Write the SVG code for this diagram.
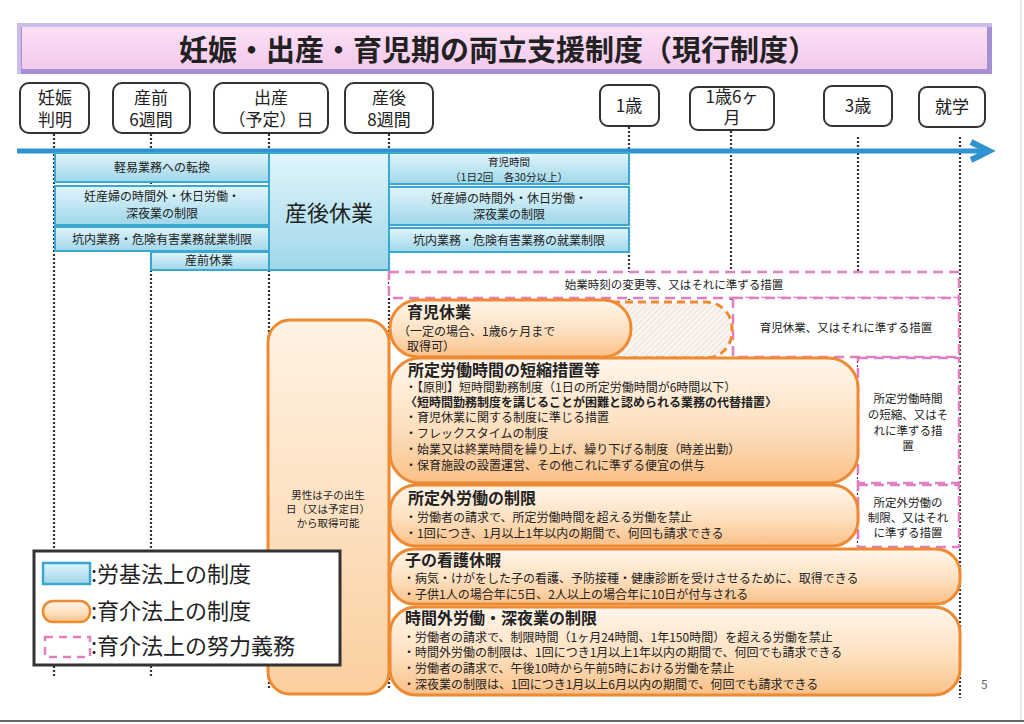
<svg xmlns="http://www.w3.org/2000/svg" width="1024" height="724" viewBox="0 0 1024 724">
<defs>
<linearGradient id="gBlue" x1="0" y1="0" x2="0" y2="1"><stop offset="0" stop-color="#e0f5fb"/><stop offset="1" stop-color="#9fd7ea"/></linearGradient>
<linearGradient id="gOrange" x1="0" y1="0" x2="0" y2="1"><stop offset="0" stop-color="#fff6ec"/><stop offset="0.55" stop-color="#fde0bf"/><stop offset="1" stop-color="#f9c088"/></linearGradient>
<linearGradient id="gTall" x1="0" y1="0" x2="0" y2="1"><stop offset="0" stop-color="#fff3e4"/><stop offset="1" stop-color="#fbcf9f"/></linearGradient>
<linearGradient id="gTitle" x1="0" y1="0" x2="0" y2="1"><stop offset="0" stop-color="#fbe0f5"/><stop offset="1" stop-color="#f3c9ec"/></linearGradient>
<pattern id="hatch" width="4" height="4" patternUnits="userSpaceOnUse" patternTransform="rotate(45)"><rect width="4" height="4" fill="#fbf5ef"/><line x1="0" y1="0" x2="0" y2="4" stroke="#d8d0c8" stroke-width="1"/></pattern>
</defs>
<style>
text{font-family:"Noto Sans CJK JP","Noto Sans CJK SC",sans-serif;fill:#222}
.hdr{fill:#fff;stroke:#333;stroke-width:2}
.ht{font-size:17px;text-anchor:middle}
.blue{fill:url(#gBlue);stroke:#3aa8d0;stroke-width:2}
.bt{font-size:12px;text-anchor:middle}
.orange{fill:url(#gOrange);stroke:#ee8a32;stroke-width:3}
.pink{fill:#fff;stroke:#e07fbf;stroke-width:2.5;stroke-dasharray:10 6}
.pt{font-size:11.5px;text-anchor:middle}
.ot{font-size:16px;font-weight:bold}
.ob{font-size:12px}
.mt{font-size:10.5px;text-anchor:middle}
.dot{stroke:#333;stroke-width:2.2;stroke-dasharray:2 2;fill:none}
.lt{font-size:22px}
</style>
<rect width="1024" height="724" fill="#fff"/>
<line x1="0" y1="721" x2="1024" y2="721" stroke="#666" stroke-width="2"/>
<line x1="1021" y1="0" x2="1021" y2="720" stroke="#e4e4e4" stroke-width="1.5"/>

<g id="title">
<rect x="17" y="23" width="975" height="51" fill="#a48fd3"/>
<rect x="17" y="23" width="975" height="4" fill="#cbbde9"/>
<rect x="17" y="23" width="4" height="51" fill="#cbbde9"/>
<rect x="22" y="27" width="965" height="42" fill="url(#gTitle)"/>
<text x="498" y="61" font-size="29" font-weight="bold" text-anchor="middle">妊娠・出産・育児期の両立支援制度（現行制度）</text>
</g>

<g id="connectors">
<line class="dot" x1="54" y1="134" x2="54" y2="676"/>
<line class="dot" x1="151" y1="134" x2="151" y2="676"/>
<line class="dot" x1="269" y1="134" x2="269" y2="690"/>
<line class="dot" x1="389" y1="134" x2="389" y2="690"/>
<line class="dot" x1="629" y1="127" x2="629" y2="300"/>
<line class="dot" x1="731" y1="131" x2="731" y2="300"/>
<line class="dot" x1="858" y1="137" x2="858" y2="548"/>
<line class="dot" x1="960" y1="137" x2="960" y2="698"/>
<line x1="17" y1="151" x2="986" y2="151" stroke="#2f93cf" stroke-width="5"/>
<polyline points="971,142 989,151 971,160" fill="none" stroke="#2f93cf" stroke-width="6" stroke-linejoin="miter"/>
</g>

<g id="h-ninshin"><rect class="hdr" x="20" y="83" width="69" height="50" rx="9"/><text class="ht" x="55" y="104">妊娠</text><text class="ht" x="55" y="126">判明</text></g>
<g id="h-sanzen"><rect class="hdr" x="113" y="83" width="77" height="50" rx="9"/><text class="ht" x="151" y="104">産前</text><text class="ht" x="151" y="126">6週間</text></g>
<g id="h-shussan"><rect class="hdr" x="214" y="83" width="114" height="50" rx="9"/><text class="ht" x="271" y="104">出産</text><text class="ht" x="271" y="126">（予定）日</text></g>
<g id="h-sango"><rect class="hdr" x="345" y="83" width="88" height="50" rx="9"/><text class="ht" x="389" y="104">産後</text><text class="ht" x="389" y="126">8週間</text></g>
<g id="h-1sai"><rect class="hdr" x="600" y="85" width="59" height="41" rx="8"/><text class="ht" x="629" y="112">1歳</text></g>
<g id="h-1sai6"><rect class="hdr" x="690" y="87" width="84" height="43" rx="8"/><text class="ht" x="732" y="103">1歳6ヶ</text><text class="ht" x="732" y="124">月</text></g>
<g id="h-3sai"><rect class="hdr" x="824" y="86" width="68" height="40" rx="8"/><text class="ht" x="858" y="112">3歳</text></g>
<g id="h-shugaku"><rect class="hdr" x="919" y="87" width="66" height="40" rx="8"/><text class="ht" x="952" y="113">就学</text></g>

<g id="b-keii"><rect class="blue" x="55" y="153" width="214" height="29"/><text class="bt" x="162" y="172">軽易業務への転換</text></g>
<g id="b-ninsanpu1"><rect class="blue" x="55" y="186" width="214" height="39"/><text class="bt" x="162" y="201">妊産婦の時間外・休日労働・</text><text class="bt" x="162" y="218">深夜業の制限</text></g>
<g id="b-konai1"><rect class="blue" x="55" y="227" width="214" height="24"/><text class="bt" x="162" y="244">坑内業務・危険有害業務就業制限</text></g>
<g id="b-sanzen"><rect class="blue" x="151" y="252" width="118" height="18"/><text class="bt" x="209" y="265">産前休業</text></g>
<g id="b-sango"><rect class="blue" x="269" y="153" width="120" height="117"/><text x="329" y="221" font-size="22" text-anchor="middle">産後休業</text></g>
<g id="b-ikuji-jikan"><rect class="blue" x="389" y="153" width="240" height="31"/><text x="509" y="166" font-size="10.5" text-anchor="middle">育児時間</text><text x="509" y="181" font-size="10.5" text-anchor="middle">（1日2回　各30分以上）</text></g>
<g id="b-ninsanpu2"><rect class="blue" x="389" y="187" width="240" height="38"/><text class="bt" x="509" y="203">妊産婦の時間外・休日労働・</text><text class="bt" x="509" y="219">深夜業の制限</text></g>
<g id="b-konai2"><rect class="blue" x="389" y="228" width="240" height="24"/><text class="bt" x="509" y="245">坑内業務・危険有害業務の就業制限</text></g>

<g id="p-shigyo"><rect class="pink" x="389" y="272" width="570" height="26"/><text class="pt" x="674" y="289">始業時刻の変更等、又はそれに準ずる措置</text></g>
<g id="p-ikuji"><rect class="pink" x="733" y="298" width="226" height="59"/><text class="pt" x="846" y="332">育児休業、又はそれに準ずる措置</text></g>
<g id="p-tanshuku"><rect class="pink" x="858" y="358" width="101" height="125"/><text class="pt" x="908" y="403">所定労働時間</text><text class="pt" x="908" y="419">の短縮、又はそ</text><text class="pt" x="908" y="435">れに準ずる措</text><text class="pt" x="908" y="450">置</text></g>
<g id="p-shoteigai"><rect class="pink" x="858" y="485" width="101" height="62"/><text class="pt" x="908" y="507">所定外労働の</text><text class="pt" x="908" y="522">制限、又はそれ</text><text class="pt" x="908" y="537">に準ずる措置</text></g>

<g id="o-dansei"><rect x="268" y="320" width="121" height="374" rx="22" fill="url(#gTall)" stroke="#ee8a32" stroke-width="3"/><text class="mt" x="328" y="499">男性は子の出生</text><text class="mt" x="328" y="513">日（又は予定日）</text><text class="mt" x="328" y="527">から取得可能</text></g>

<g id="o-ikuji-kyugyo">
<rect x="560" y="302" width="172" height="56" rx="26" fill="url(#hatch)" stroke="#ee8a32" stroke-width="3" stroke-dasharray="8 5"/>
<rect class="orange" x="390" y="300" width="241" height="57" rx="28"/>
<text class="ot" x="407" y="318">育児休業</text>
<text class="ob" x="398" y="336">（一定の場合、1歳6ヶ月まで</text>
<text class="ob" x="407" y="351">取得可）</text>
</g>

<g id="o-tanshuku">
<rect class="orange" x="390" y="358" width="468" height="125" rx="30"/>
<text class="ot" x="408" y="376">所定労働時間の短縮措置等</text>
<text class="ob" x="405" y="392">・【原則】短時間勤務制度（1日の所定労働時間が6時間以下）</text>
<text class="ob" x="405" y="407" font-weight="bold">〈短時間勤務制度を講じることが困難と認められる業務の代替措置〉</text>
<text class="ob" x="405" y="422">・育児休業に関する制度に準じる措置</text>
<text class="ob" x="405" y="438">・フレックスタイムの制度</text>
<text class="ob" x="405" y="454">・始業又は終業時間を繰り上げ、繰り下げる制度（時差出勤）</text>
<text class="ob" x="405" y="470">・保育施設の設置運営、その他これに準ずる便宜の供与</text>
</g>

<g id="o-shoteigai">
<rect class="orange" x="390" y="485" width="468" height="61" rx="26"/>
<text class="ot" x="408" y="504">所定外労働の制限</text>
<text class="ob" x="405" y="522">・労働者の請求で、所定労働時間を超える労働を禁止</text>
<text class="ob" x="405" y="538">・1回につき、1月以上1年以内の期間で、何回も請求できる</text>
</g>

<g id="o-kango">
<rect class="orange" x="390" y="549" width="570" height="55" rx="24"/>
<text class="ot" x="405" y="566">子の看護休暇</text>
<text class="ob" x="403" y="583">・病気・けがをした子の看護、予防接種・健康診断を受けさせるために、取得できる</text>
<text class="ob" x="403" y="599">・子供1人の場合年に5日、2人以上の場合年に10日が付与される</text>
</g>

<g id="o-jikangai">
<rect class="orange" x="390" y="607" width="570" height="88" rx="26"/>
<text class="ot" x="405" y="624">時間外労働・深夜業の制限</text>
<text class="ob" x="403" y="642">・労働者の請求で、制限時間（1ヶ月24時間、1年150時間）を超える労働を禁止</text>
<text class="ob" x="403" y="657">・時間外労働の制限は、1回につき1月以上1年以内の期間で、何回でも請求できる</text>
<text class="ob" x="403" y="673">・労働者の請求で、午後10時から午前5時における労働を禁止</text>
<text class="ob" x="403" y="689">・深夜業の制限は、1回につき1月以上6月以内の期間で、何回でも請求できる</text>
</g>

<g id="legend">
<rect x="34" y="551" width="306" height="114" fill="#fff" stroke="#333" stroke-width="3"/>
<rect x="43" y="563" width="47" height="21" fill="url(#gBlue)" stroke="#3aa8d0" stroke-width="2.5"/>
<text class="lt" x="91" y="582">:労基法上の制度</text>
<rect x="43" y="601" width="47" height="21" rx="10" fill="url(#gOrange)" stroke="#ee8a32" stroke-width="2.5"/>
<text class="lt" x="91" y="619">:育介法上の制度</text>
<rect x="45" y="637" width="45" height="20" fill="#fff" stroke="#e07fbf" stroke-width="2.5" stroke-dasharray="8 6"/>
<text class="lt" x="91" y="654">:育介法上の努力義務</text>
</g>

<text x="981" y="689" font-size="12" style="fill:#666">5</text>
</svg>
